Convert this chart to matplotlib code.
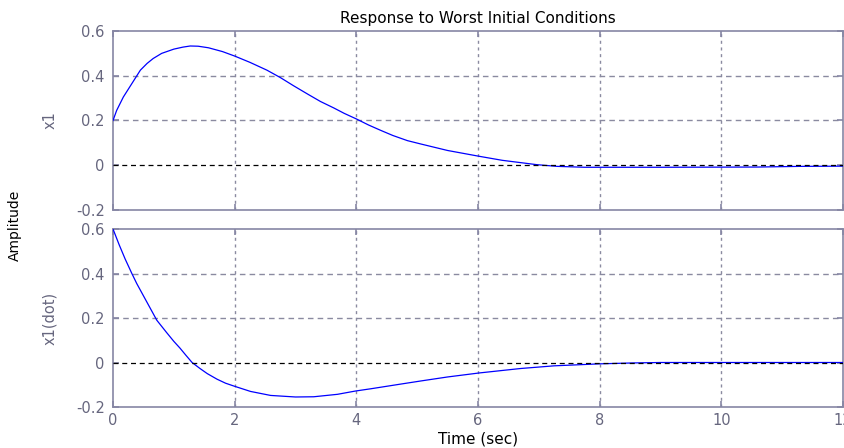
import matplotlib
matplotlib.use("Agg")
import matplotlib.pyplot as plt

plt.rcParams['font.family'] = ['DejaVu Sans']

# ---- data ----
t_x1 = [0, 0.06, 0.17, 0.31, 0.45, 0.56, 0.66, 0.8, 1.0, 1.15, 1.27, 1.4, 1.57, 1.8, 2.0, 2.25, 2.53, 2.75, 2.97,
        3.2, 3.41, 3.63, 3.8, 4.0, 4.2, 4.4, 4.6, 4.84, 5.06, 5.5, 6.02, 6.4, 6.97, 7.3, 7.75, 9.0, 10.6, 11.3, 12.0]
x1 = [0.2, 0.245, 0.305, 0.365, 0.425, 0.455, 0.477, 0.50, 0.519, 0.528, 0.533, 0.532, 0.525, 0.508, 0.488, 0.46, 0.425, 0.392, 0.355,
      0.318, 0.285, 0.256, 0.232, 0.207, 0.18, 0.156, 0.133, 0.11, 0.095, 0.066, 0.04, 0.022, 0.0025, -0.005, -0.009, -0.009, -0.008, -0.005, -0.004]

t_x1dot = [0, 0.1, 0.2, 0.31, 0.39, 0.5, 0.61, 0.72, 0.88, 1.0, 1.1, 1.2, 1.3, 1.43, 1.55, 1.71, 1.85, 2.0, 2.26, 2.59, 3.0, 3.3,
           3.69, 3.99, 4.24, 4.73, 5.06, 5.5, 6.02, 6.7, 7.25, 8.0, 8.55, 9.0, 12.0]
x1dot = [0.6, 0.53, 0.465, 0.4, 0.355, 0.3, 0.245, 0.19, 0.135, 0.095, 0.065, 0.032, 0.0, -0.027, -0.05, -0.075, -0.093, -0.107, -0.13, -0.148, -0.155, -0.154,
         -0.143, -0.128, -0.118, -0.097, -0.083, -0.065, -0.047, -0.027, -0.015, -0.006, -0.002, 0.0, 0.0]

x_ticks = [0, 2, 4, 6, 8, 10, 12]
y_ticks = [-0.2, 0, 0.2, 0.4, 0.6]
y_ticklabels = ['-0.2', '0', '0.2', '0.4', '0.6']
title = "Response to Worst Initial Conditions"
ylabels = ["x1", "x1(dot)"]

# ---- styling ----
W, H = 845, 448
fig = plt.figure(figsize=(W / 100, H / 100), dpi=100)
spine_c = '#8686a4'
tick_c = '#66667e'
grid_c = '#8a8aa0'

def pos(l, t, r, b):
    return [l / W, 1 - b / H, (r - l) / W, (b - t) / H]

ax1 = fig.add_axes(pos(113, 31, 843, 210))
ax2 = fig.add_axes(pos(113, 229, 843, 407))

for ax, tt, yy, lab in [(ax1, t_x1, x1, ylabels[0]), (ax2, t_x1dot, x1dot, ylabels[1])]:
    ax.plot(tt, yy, color='#0000ff', lw=0.9, zorder=3)
    ax.axhline(0, color='black', lw=0.9, ls=(0, (4, 3)), zorder=4)
    ax.set_xlim(0, 12)
    ax.set_ylim(-0.2, 0.6)
    ax.set_xticks(x_ticks)
    ax.set_yticks(y_ticks)
    ax.set_yticklabels(y_ticklabels)
    for xv in x_ticks[1:-1]:
        ax.axvline(xv, color=grid_c, lw=1.0, ls=(0, (2.2, 2.6)), zorder=1)
    for yv in y_ticks[1:-1]:
        if yv != 0:
            ax.axhline(yv, color=grid_c, lw=1.0, ls=(0, (4, 3)), zorder=1)
    for s in ax.spines.values():
        s.set_color(spine_c)
        s.set_linewidth(1.2)
    ax.tick_params(direction='in', length=4, width=1.2, color=spine_c,
                   labelcolor=tick_c, labelsize=10.5, top=True, right=True, pad=6)
    ax.tick_params(axis='x', pad=4)
    ax.set_ylabel(lab, color=tick_c, fontsize=10.5)
    ax.yaxis.set_label_coords(-0.076, 0.5)

ax1.tick_params(labelbottom=False)
ax1.set_title(title, fontsize=11, color='black', pad=6)
ax2.set_xlabel("Time (sec)", fontsize=11, color='black', labelpad=3)
fig.text(15 / W, 1 - 225 / H, "Amplitude", rotation=90, fontsize=10,
         color='black', ha='center', va='center')

fig.savefig("out.png", dpi=100)
